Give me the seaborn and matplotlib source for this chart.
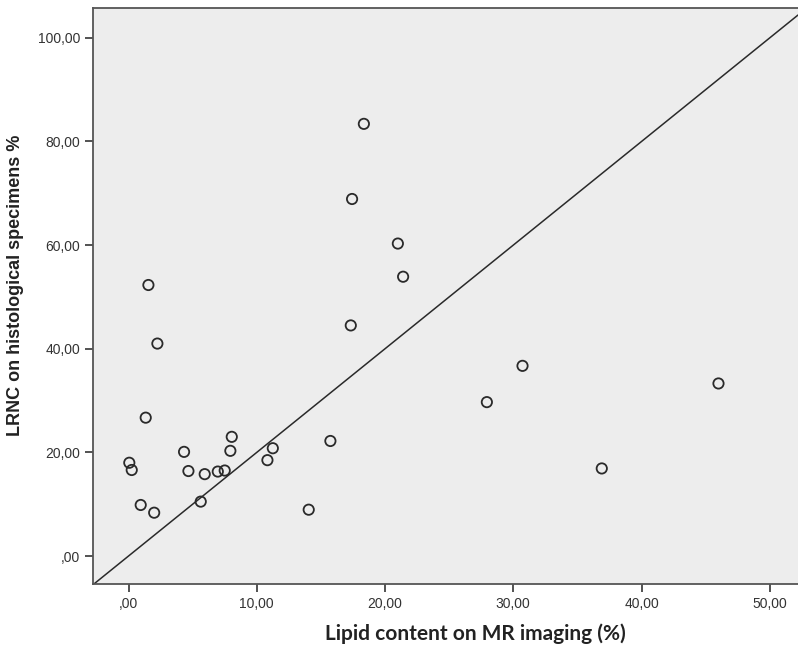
import matplotlib
matplotlib.use("Agg")
import matplotlib.pyplot as plt
import seaborn as sns
import pandas as pd

# Data
lipid_mr = [0.06, 0.25, 0.95, 2.0, 1.34, 2.25, 1.55, 4.33, 4.67, 5.63, 5.94, 6.96, 7.5,
            7.94, 8.05, 10.83, 11.25, 14.05, 15.74, 17.33, 17.43, 18.35, 21.0, 21.41,
            27.94, 30.72, 36.9, 46.0]
lrnc_histo = [18.0, 16.6, 9.85, 8.36, 26.7, 41.0, 52.3, 20.1, 16.4, 10.5, 15.8, 16.3, 16.5,
              20.3, 23.0, 18.5, 20.8, 8.94, 22.2, 44.5, 68.9, 83.4, 60.3, 53.9,
              29.7, 36.7, 16.9, 33.3]
line_slope = 2.0
line_intercept = 0.0

x_ticks = [0, 10, 20, 30, 40, 50]
x_tick_labels = [",00", "10,00", "20,00", "30,00", "40,00", "50,00"]
y_ticks = [0, 20, 40, 60, 80, 100]
y_tick_labels = [",00", "20,00", "40,00", "60,00", "80,00", "100,00"]

x_label = "Lipid content on MR imaging (%)"
y_label = "LRNC on histological specimens %"

df = pd.DataFrame({"mr": lipid_mr, "histo": lrnc_histo})

sns.set_style("white")
fig = plt.figure(figsize=(7.98, 6.49), dpi=100)
ax = fig.add_axes([93 / 798, 1 - 584 / 649, 705 / 798, (584 - 8.3) / 649])
ax.set_facecolor("#ededed")

sns.scatterplot(data=df, x="mr", y="histo", ax=ax, marker="o", s=55,
                facecolor="none", edgecolor="#2a2a2a", linewidth=1.3, zorder=3)
ax.axline((0, line_intercept), slope=line_slope, color="#2a2a2a", linewidth=1.1, zorder=2)

ax.set_xlim(-2.77, 52.2)
ax.set_ylim(-5.4, 105.7)

ax.set_xticks(x_ticks)
ax.set_xticklabels(x_tick_labels, fontsize=10, family="Liberation Sans", color="#333333")
ax.set_yticks(y_ticks)
ax.set_yticklabels(y_tick_labels, fontsize=10, family="Liberation Sans", color="#333333")
ax.tick_params(axis="both", direction="out", length=6, width=1.3, color="#444444",
               bottom=True, left=True, pad=3)

for side in ["left", "bottom", "top"]:
    ax.spines[side].set_visible(True)
    ax.spines[side].set_color("#555555")
    ax.spines[side].set_linewidth(1.3)
ax.spines["right"].set_visible(False)

ax.set_xlabel(x_label, fontsize=15, fontweight="bold", family="Lato", color="#222222")
ax.set_ylabel(y_label, fontsize=13, fontweight="bold", family="Liberation Sans", color="#222222")
ax.xaxis.set_label_coords((475 - 93) / 705, (584 - 634) / 576)
ax.xaxis.label.set_va("center")
ax.yaxis.set_label_coords((16 - 93) / 705, (584 - 285) / 576)
ax.yaxis.label.set_va("center")

fig.savefig("out.png", dpi=100, facecolor="white")
